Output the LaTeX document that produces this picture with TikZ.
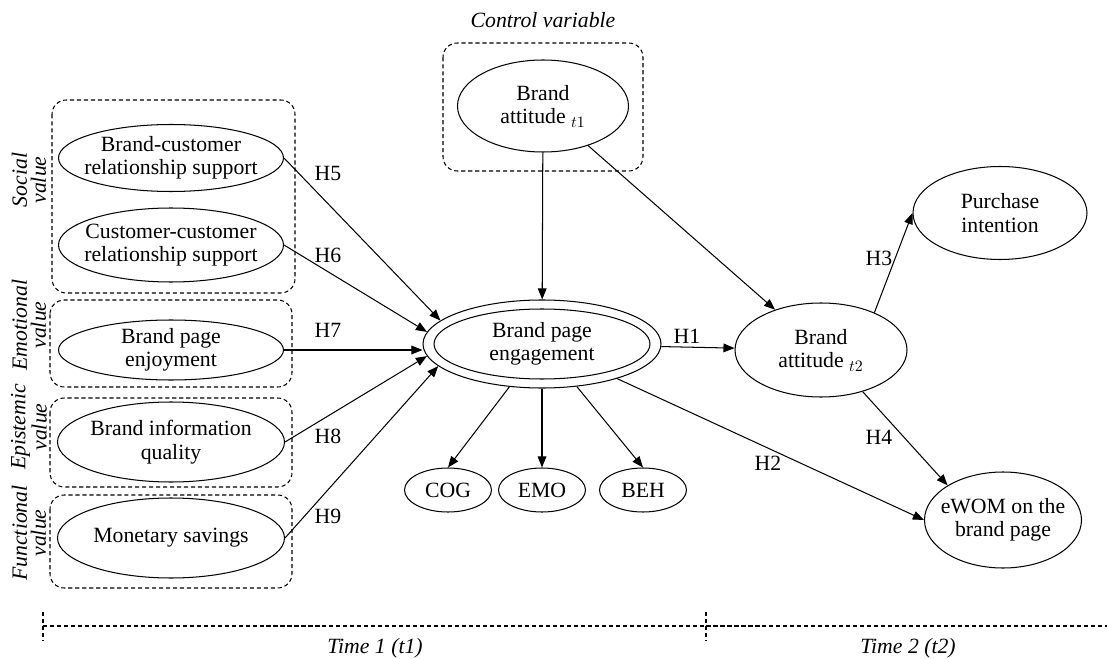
\documentclass[tikz,border=0pt]{standalone}
\usepackage{fontspec}
\setmainfont{Liberation Serif}
\usetikzlibrary{positioning,arrows.meta,shapes.geometric}
\newcommand{\px}{0.63pt}
\newcommand{\bodyfnt}{\fontsize{13.7}{14.8}\selectfont}
\tikzset{
  lat/.style 2 args = {ellipse, draw, align=center,
                       inner xsep=-15pt, inner ysep=-8pt,
                       minimum width=#1*\px, minimum height=#2*\px},
  grp/.style  = {draw, dash pattern=on 2.6pt off 1.8pt, rounded corners=9pt},
  tline/.style = {draw, dash pattern=on 2.6pt off 1.8pt},
  arr/.style  = {-{Triangle[length=7pt,width=5.5pt]}},
  hyp/.style  = {inner sep=0pt},
  itl/.style  = {font=\bodyfnt\itshape},
  side/.style = {rotate=90, align=center, inner sep=0pt,
                 font=\fontsize{13.7}{12}\selectfont\itshape}
}

\begin{document}
\begin{tikzpicture}[x=\px, y=-\px, line width=0.65pt, font=\bodyfnt]
        \useasboundingbox (0,0) rectangle (1107,659);
        % groups
        \draw[grp] (443,43) rectangle (643,171);
        \draw[grp] (52,100) rectangle (295,293);
        \draw[grp] (50,300) rectangle (292,387);
        \draw[grp] (50,398) rectangle (292,487);
        \draw[grp] (50,495) rectangle (292,588);
        \node[itl] (ctl) at (543,20) {Control variable};
        \node[side] (soc) at (29,180) {Social\\value};
        \node[side] (emv) at (29,325) {Emotional\\value};
        \node[side] (epv) at (29,427) {Epistemic\\value};
        \node[side] (fnv) at (29,533) {Functional\\value};
        % constructs
        \node[lat={171}{92}] (ba1) at (543,106) {Brand\\attitude $_{t1}$};
        \node[lat={225}{67}] (bcrs) at (171,158) {Brand-customer\\relationship support};
        \node[lat={225}{74}] (ccrs) at (171,245) {Customer-customer\\relationship support};
        \node[lat={225}{60}] (bpenj) at (171,350) {Brand page\\enjoyment};
        \node[lat={227}{80}] (biq) at (171,442) {Brand information\\quality};
        \node[lat={227}{80}] (mon) at (171,538) {Monetary savings};
        \node[lat={238}{88}] (bpe) at (542,344) {};
        \node[lat={216}{70}] (bpein) at (bpe.center) {Brand page\\engagement};
        \node[lat={87}{44}] (cog) at (448,490) {COG};
        \node[lat={87}{44}] (emo) at (542,490) {EMO};
        \node[lat={87}{44}] (beh) at (643,490) {BEH};
        \node[lat={172}{94}] (ba2) at (821,350) {Brand\\attitude $_{t2}$};
        \node[lat={174}{93}] (pi) at (1000,213) {Purchase\\intention};
        \node[lat={157}{96}] (ewom) at (1003,520) {eWOM on the\\brand page};
        % paths
        \draw[arr](bcrs.east)--(bpe.167);
        \draw[arr](ccrs.east)--(bpe.174);
        \draw[arr](bpenj.east)--(bpenj.east -| bpe.west);
        \draw[arr](biq.east)--(bpe.186);
        \draw[arr](mon.east)--(bpe.192);
        \draw[arr](ba1)--(bpe);
        \draw[arr](ba1)--(ba2);
        \draw[arr](bpe)--(ba2);
        \draw[arr](bpe)--(ewom.west);
        \draw[arr](bpe)--(cog.north);
        \draw[arr](bpe)--(emo);
        \draw[arr](bpe)--(beh.north);
        \draw[arr](ba2.35)--(pi.west);
        \draw[arr](ba2.-45)--(ewom.148);
        % hypotheses
        \node[hyp] (h5) at (328,173) {H5};
        \node[hyp] (h6) at (328,255) {H6};
        \node[hyp] (h7) at (328,330) {H7};
        \node[hyp] (h8) at (328,436) {H8};
        \node[hyp] (h9) at (328,516) {H9};
        \node[hyp] (h1) at (687,336) {H1};
        \node[hyp] (h2) at (768,463) {H2};
        \node[hyp] (h3) at (879,258) {H3};
        \node[hyp] (h4) at (879,437) {H4};
        % time line
        \draw[tline] (43,626) -- (1107,626);
        \draw[tline] (43,612) -- (43,640);
        \draw[tline] (706,612) -- (706,640);
        \node[itl] (tm1) at (375,648) {Time 1 (t1)};
        \node[itl] (tm2) at (908,648) {Time 2 (t2)};
      \end{tikzpicture}
\end{document}
